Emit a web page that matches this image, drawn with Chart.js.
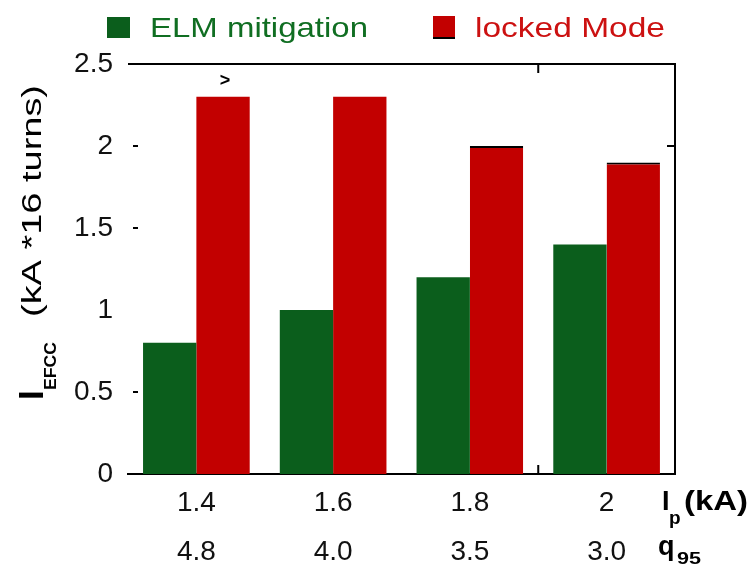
<!DOCTYPE html>
<html>
<head>
<meta charset="utf-8">
<script src="https://cdn.jsdelivr.net/npm/chart.js@4.4.1/dist/chart.umd.min.js"></script>
<style>
  html, body { margin: 0; padding: 0; background: #fff; }
  #wrap { width: 752px; height: 570px; }
</style>
</head>
<body>
<div id="wrap"><canvas id="chart" width="752" height="570"></canvas></div>
<script>
// plasma current (kA) and q95 for each shot group
const currents = ["1.4", "1.6", "1.8", "2"];
const q95 = ["4.8", "4.0", "3.5", "3.0"];
// I_EFCC (kA * 16 turns)
const elmMitigation = [0.8, 1.0, 1.2, 1.4];
const lockedMode = [2.3, 2.3, 2.0, 1.9];
const yTicks = [0, 0.5, 1, 1.5, 2, 2.5];

const GREEN = "#0b5e1c";
const RED = "#c20000";
const FONT = "'Liberation Sans', Arial, sans-serif";

// draw text squeezed/stretched to a given width
function wideText(ctx, txt, x, y, width) {
    const w = ctx.measureText(txt).width;
    ctx.save();
    ctx.translate(x, y);
    ctx.scale(width ? width / w : 1, 1);
    ctx.fillText(txt, 0, 0);
    ctx.restore();
}

const decor = {
    id: "decor",
    afterDraw(chart) {
        const ctx = chart.ctx;
        const a = chart.chartArea;
        const xs = chart.scales.x;
        const ys = chart.scales.y;

        // frame: top + right, plus the odd ticks
        ctx.save();
        ctx.strokeStyle = "#000";
        ctx.lineWidth = 2;
        ctx.beginPath();
        ctx.moveTo(a.left, a.top);
        ctx.lineTo(a.right, a.top);
        ctx.lineTo(a.right, a.bottom);
        const bx = (xs.getPixelForValue(2) + xs.getPixelForValue(3)) / 2;
        ctx.moveTo(bx, a.top);
        ctx.lineTo(bx, a.top + 9);
        ctx.moveTo(bx, a.bottom);
        ctx.lineTo(bx, a.bottom - 9);
        const y2 = ys.getPixelForValue(2);
        ctx.moveTo(a.right, y2);
        ctx.lineTo(a.right - 8, y2);
        // small dashes just inside the left edge
        yTicks.forEach(v => {
            if (v === 0 || v === 2.5 || v === 1) return;
            const py = ys.getPixelForValue(v);
            ctx.moveTo(a.left + 5, py);
            ctx.lineTo(a.left + 10, py);
        });
        ctx.stroke();
        ctx.restore();

        // legend
        ctx.save();
        ctx.textBaseline = "alphabetic";
        ctx.font = "28px " + FONT;
        ctx.fillStyle = GREEN;
        ctx.fillRect(107, 17, 23, 21);
        ctx.fillStyle = "#106e22";
        wideText(ctx, "ELM mitigation", 150, 37, 218);
        ctx.fillStyle = RED;
        ctx.fillRect(433, 16, 22, 21);
        ctx.fillStyle = "#000";
        ctx.fillRect(433, 37, 22, 2);
        ctx.fillStyle = "#cc1111";
        wideText(ctx, "locked Mode", 475, 37, 190);
        ctx.restore();

        // marker above first locked-mode bar
        const m = chart.getDatasetMeta(1).data[0];
        ctx.save();
        ctx.fillStyle = "#000";
        ctx.font = "bold 18px " + FONT;
        ctx.textAlign = "center";
        ctx.textBaseline = "middle";
        ctx.fillText(">", m.x + 2, ys.getPixelForValue(2.3) - 16);
        ctx.restore();

        // y title, rotated
        ctx.save();
        ctx.fillStyle = "#000";
        ctx.rotate(-Math.PI / 2);
        ctx.font = "bold 35px " + FONT;
        ctx.fillText("I", -400, 43);
        ctx.font = "bold 16px " + FONT;
        wideText(ctx, "EFCC", -390, 56, 48);
        ctx.font = "27px " + FONT;
        wideText(ctx, "(kA *16 turns)", -317, 41, 232);
        ctx.restore();

        // right-hand axis captions
        ctx.save();
        ctx.fillStyle = "#000";
        ctx.font = "bold 27px " + FONT;
        ctx.fillText("I", 662, 510);
        ctx.font = "bold 19px " + FONT;
        ctx.fillText("p", 669, 524);
        ctx.font = "bold 27px " + FONT;
        wideText(ctx, "(kA)", 684, 510, 64);
        ctx.fillText("q", 658, 555);
        ctx.font = "bold 16px " + FONT;
        wideText(ctx, "95", 677, 564, 24);
        ctx.restore();
    }
};

new Chart(document.getElementById("chart"), {
    type: "bar",
    data: {
        labels: currents.map((c, i) => [c, q95[i]]),
        datasets: [
            {
                label: "ELM mitigation",
                data: elmMitigation,
                backgroundColor: GREEN,
                borderWidth: 0
            },
            {
                label: "locked Mode",
                data: lockedMode,
                backgroundColor: RED,
                borderColor: "#000",
                borderWidth: ctx => ctx.dataIndex >= 2 ? { top: 2, left: 0, right: 0, bottom: 0 } : 0
            }
        ]
    },
    options: {
        responsive: false,
        animation: false,
        barPercentage: 1,
        categoryPercentage: 0.78,
        layout: { padding: { top: 64, right: 77, left: 0, bottom: 0 } },
        plugins: {
            legend: { display: false },
            tooltip: { enabled: false }
        },
        scales: {
            x: {
                grid: { display: false },
                border: { display: true, color: "#000", width: 2 },
                ticks: {
                    color: "#111",
                    padding: -3,
                    font: { family: FONT, size: 28, lineHeight: "49px" },
                    maxRotation: 0
                },
                afterFit: s => { s.height = 96; }
            },
            y: {
                min: 0,
                max: 2.5,
                afterBuildTicks: s => { s.ticks = yTicks.map(v => ({ value: v })); },
                grid: { display: false },
                border: { display: false },
                ticks: {
                    color: "#111",
                    padding: 7,
                    font: { family: FONT, size: 28 },
                    callback: v => String(v)
                },
                afterFit: s => { s.width = 128; }
            }
        }
    },
    plugins: [decor]
});
</script>
</body>
</html>
